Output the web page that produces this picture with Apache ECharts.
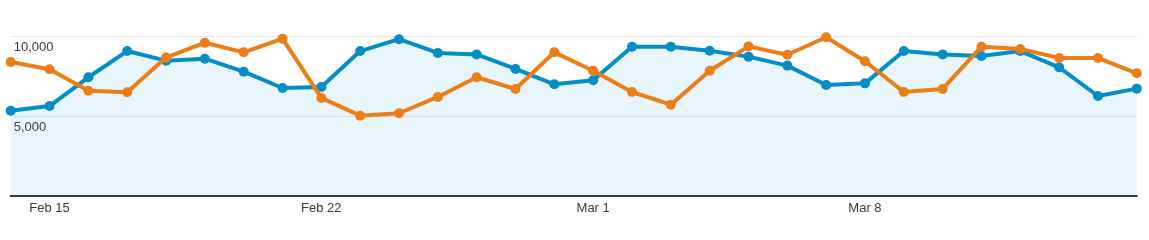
<!DOCTYPE html>
<html>
<head>
<meta charset="utf-8">
<script src="https://cdn.jsdelivr.net/npm/echarts@6/dist/echarts.min.js"></script>
<style>
html,body{margin:0;padding:0;background:#fff;}
#chart{width:1149px;height:240px;}
</style>
</head>
<body>
<div id="chart"></div>
<script>
const categories = ['Feb 14','Feb 15','Feb 16','Feb 17','Feb 18','Feb 19','Feb 20','Feb 21','Feb 22','Feb 23','Feb 24','Feb 25','Feb 26','Feb 27','Feb 28','Mar 1','Mar 2','Mar 3','Mar 4','Mar 5','Mar 6','Mar 7','Mar 8','Mar 9','Mar 10','Mar 11','Mar 12','Mar 13','Mar 14','Mar 15'];
const labeledDates = ['Feb 15','Feb 22','Mar 1','Mar 8'];
const blueValues = [5330,5620,7420,9060,8460,8580,7770,6750,6810,9060,9800,8940,8850,7940,6980,7230,9330,9330,9080,8710,8150,6940,7040,9060,8850,8750,9060,8040,6250,6710];
const orangeValues = [8380,7920,6580,6480,8650,9580,8980,9830,6130,5020,5170,6190,7420,6690,8980,7830,6500,5710,7830,9350,8830,9920,8420,6500,6690,9330,9190,8630,8630,7670];
const yTicks = [0,5000,10000];

const chart = echarts.init(document.getElementById('chart'), null, {renderer:'canvas'});
chart.setOption({
  animation:false,
  backgroundColor:'#fff',
  grid:{left:10.7, right:12.2, top:36, bottom:44, outerBoundsMode:'none', containLabel:false},
  xAxis:{
    type:'category',
    data:categories,
    boundaryGap:false,
    axisLine:{show:true, lineStyle:{color:'#2d3a3f', width:2}},
    axisTick:{show:false},
    axisLabel:{
      color:'#3a3a3a', fontSize:13, fontFamily:'Liberation Sans, Arial, sans-serif', margin:6,
      interval:function(i, v){return labeledDates.indexOf(v) >= 0;}
    },
    splitLine:{show:false}
  },
  yAxis:{
    type:'value',
    min:yTicks[0], max:yTicks[yTicks.length-1], interval:5000,
    axisLine:{show:false},
    axisTick:{show:false},
    axisLabel:{
      inside:true, margin:3, color:'#3a3a3a', fontSize:13,
      fontFamily:'Liberation Sans, Arial, sans-serif',
      verticalAlign:'top', padding:[5,0,0,0],
      formatter:function(v){return v===0?'':v.toLocaleString('en-US');}
    },
    splitLine:{show:true, lineStyle:{color:'#e6e6e6', width:1}}
  },
  series:[
    {
      type:'line', data:blueValues, z:2,
      symbol:'circle', symbolSize:10, showSymbol:true,
      lineStyle:{color:'#058dc7', width:4},
      itemStyle:{color:'#058dc7'},
      areaStyle:{color:'rgba(5,141,199,0.13)'}
    },
    {
      type:'line', data:orangeValues, z:3,
      symbol:'circle', symbolSize:10, showSymbol:true,
      lineStyle:{color:'#ed7e17', width:4},
      itemStyle:{color:'#ed7e17'}
    }
  ]
});
</script>
</body>
</html>
